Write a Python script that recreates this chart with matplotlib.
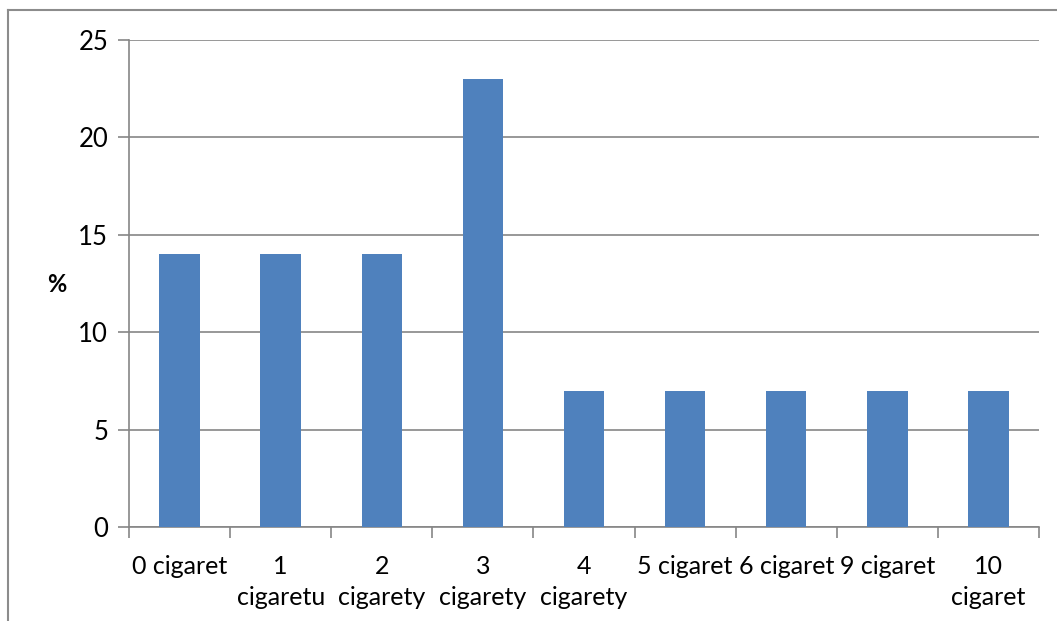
import matplotlib.pyplot as plt

categories = ["0 cigaret", "1\ncigaretu", "2\ncigarety", "3\ncigarety", "4\ncigarety",
              "5 cigaret", "6 cigaret", "9 cigaret", "10\ncigaret"]
values = [14, 14, 14, 23, 7, 7, 7, 7, 7]
yticks = [0, 5, 10, 15, 20, 25]

plt.rcParams['font.family'] = ['Lato', 'DejaVu Sans']
grid_color = '#868686'

W, H = 1057, 621
fig = plt.figure(figsize=(W / 100, H / 100), dpi=100)

# outer chart frame (only left and top edges fall inside the image)
fig.add_artist(plt.Line2D([8 / W, 8 / W], [0, 1 - 10 / H], color='#8c8c8c', lw=1.5,
                          transform=fig.transFigure))
fig.add_artist(plt.Line2D([8 / W, 1], [1 - 10 / H, 1 - 10 / H], color='#8c8c8c', lw=1.5,
                          transform=fig.transFigure))

left, right, top, bottom = 129, 1039, 40, 527
ax = fig.add_axes([left / W, 1 - bottom / H, (right - left) / W, (bottom - top) / H])

x = range(len(categories))
ax.bar(x, values, width=0.4, color='#4F81BD', zorder=3)

ax.set_xlim(-0.5, len(categories) - 0.5)
ax.set_ylim(0, 25)
ax.set_yticks(yticks)
ax.yaxis.grid(True, color=grid_color, lw=1.2)
ax.set_axisbelow(True)

for side in ['top', 'right']:
    ax.spines[side].set_visible(False)
for side in ['left', 'bottom']:
    ax.spines[side].set_color(grid_color)
    ax.spines[side].set_linewidth(1.2)

# category labels between boundary tick marks
ax.set_xticks([i + 0.5 for i in range(-1, len(categories))])
ax.set_xticklabels([])
ax.tick_params(axis='x', length=8, color=grid_color, width=1.2)
ax.set_xticks(list(x), minor=True)
ax.set_xticklabels(categories, minor=True, fontsize=18, linespacing=1.42, va='top')
ax.tick_params(axis='x', which='minor', length=0, pad=20)

ax.tick_params(axis='y', length=8, color=grid_color, width=1.2, labelsize=18.5, pad=7)

fig.text(57 / W, 1 - 285 / H, '%', fontsize=17, fontweight='bold', ha='center', va='center')

fig.savefig('out.png', dpi=100)
